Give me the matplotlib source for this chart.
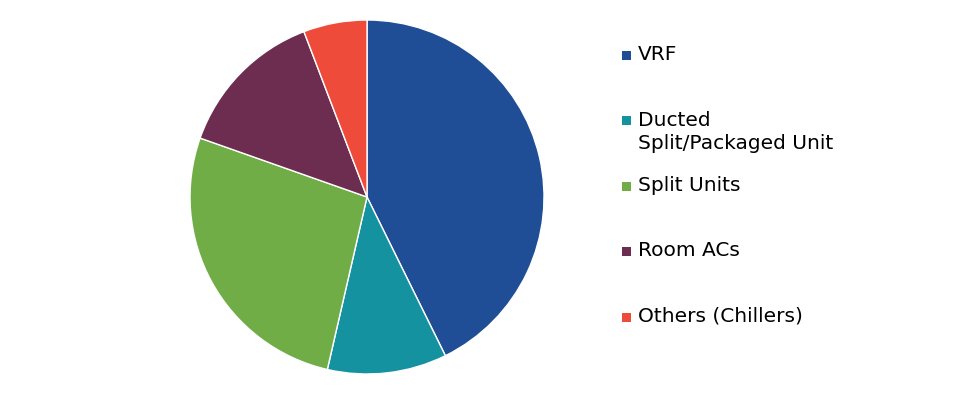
import matplotlib.pyplot as plt

# данные
labels = ["VRF", "Ducted\nSplit/Packaged Unit", "Split Units", "Room ACs", "Others (Chillers)"]
shares = [42.7, 10.9, 26.8, 13.8, 5.8]
colors = ["#1F4E96", "#1592A0", "#70AD47", "#6D2D50", "#EF4B3A"]

W, H = 968, 400
fig = plt.figure(figsize=(W / 100, H / 100), dpi=100)
ax = fig.add_axes([0.1963, 0.065, 0.3657, 0.885])

ax.pie(shares, colors=colors, startangle=90, counterclock=False, radius=1,
       wedgeprops=dict(edgecolor="white", linewidth=1))
ax.set_xlim(-1, 1)
ax.set_ylim(-1, 1)
ax.set_aspect("equal")
ax.axis("off")

# легенда вручную: маркер по первой строке подписи
y0, step = 55, 65.5
for i, (lab, c) in enumerate(zip(labels, colors)):
    yc = y0 + step * i
    fig.patches.append(plt.Rectangle((622 / W, 1 - (yc + 4.5) / H), 9 / W, 9 / H,
                                     transform=fig.transFigure, facecolor=c,
                                     edgecolor="none"))
    fig.text(638 / W, 1 - (yc - 10) / H, lab, fontsize=14.5, va="top", ha="left",
             linespacing=1.3, color="#000000")

fig.savefig("out.png", dpi=100)
